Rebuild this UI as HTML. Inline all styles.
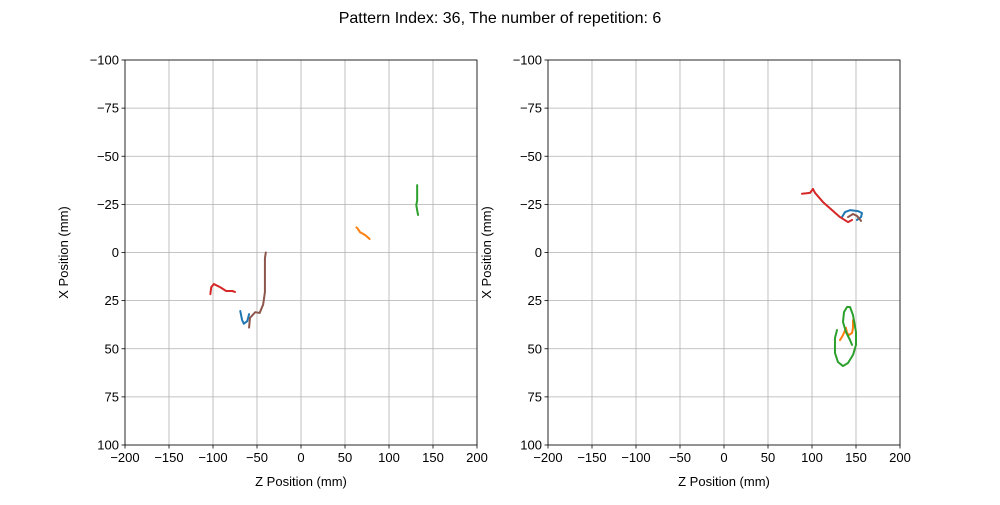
<!DOCTYPE html>
<html><head><meta charset="utf-8"><style>
body{margin:0;background:#fff;}
svg text{font-family:"Liberation Sans","DejaVu Sans",sans-serif;fill:#000;}
</style></head><body>
<svg id="chart" width="1000" height="500">
<text x="500" y="23" font-size="16" text-anchor="middle">Pattern Index: 36, The number of repetition: 6</text>
</svg>
<script>
const zTicks=[-200,-150,-100,-50,0,50,100,150,200];
const xTicks=[-100,-75,-50,-25,0,25,50,75,100];
const colors={blue:"#1f77b4",orange:"#ff7f0e",green:"#2ca02c",red:"#d62728",brown:"#8c564b"};
const leftBlueZ=[-69,-67,-65,-61,-59];
const leftBlueX=[30.4,35,37,35.6,32];
const leftBrownZ=[-59,-58,-52,-47,-43,-41,-41,-41,-40];
const leftBrownX=[39,34,31,31.4,27,20.5,9,3,0];
const leftRedZ=[-103,-102,-99,-92,-85,-78,-75];
const leftRedX=[21.6,18,16.4,18,20,20,20.5];
const leftOrangeZ=[63,64,67,73,78];
const leftOrangeX=[-13,-12.7,-10.6,-9,-7];
const leftGreenZ=[132,132,131,132,133];
const leftGreenX=[-35,-27,-24.7,-22,-19.5];
const rightRedZ=[88.6,97.7,101.1,103.4,112.5,131.8,140.9,145.5];
const rightRedX=[-30.5,-31,-33,-31,-26.2,-18.4,-15.8,-16.9];
const rightBlueZ=[134.1,137.5,143.2,152.3,156.8,155.7,151.1];
const rightBlueX=[-18.4,-21,-22,-21.5,-20.5,-18.4,-16.9];
const rightBrownZ=[140.9,146.6,151.1,155.7];
const rightBrownX=[-18.4,-20,-19,-16.4];
const rightGreenZ=[128.4,126.1,126.1,129.5,135.2,140.9,146.6,150,150,146.6,143.2,139.8,136.4,135.2,138.6,143.2,145.5];
const rightGreenX=[40.3,44.4,52.2,56.9,59,57.4,53.2,48,41.3,32.5,28.3,28.3,30.9,36.1,41.3,45.5,48];
const rightOrangeZ=[131.8,135.2,138.6,139.8,142,145.5,146.6,146.6];
const rightOrangeX=[45.5,42.9,39.2,41.8,42.9,41.8,39.2,35.1];

const NS="http://www.w3.org/2000/svg";
const svg=document.getElementById('chart');
function mk(t,a,p){const e=document.createElementNS(NS,t);for(const k in a)e.setAttribute(k,a[k]);(p||svg).appendChild(e);return e;}
function axes(x0,name,series){
  const x1=x0+352,y0=60,y1=445;
  const sx=z=>x0+(z+200)/400*(x1-x0);
  const sy=v=>y0+(v+100)/200*(y1-y0);
  const g=mk('g',{});
  
  
  zTicks.forEach(t=>{const X=sx(t);
    const l=mk('line',{x1:X,x2:X,y1:y0,y2:y1,stroke:'#b0b0b0','stroke-width':0.8},g);
    
    mk('line',{x1:X,x2:X,y1:y1,y2:y1+3.5,stroke:'#000','stroke-width':0.8},g);
    const tx=mk('text',{x:X,y:y1+17,'font-size':13,'text-anchor':'middle'},g);
    tx.textContent=String(t).replace('-','\u2212');
    });
  xTicks.forEach(t=>{const Y=sy(t);
    const l=mk('line',{x1:x0,x2:x1,y1:Y,y2:Y,stroke:'#b0b0b0','stroke-width':0.8},g);
    
    mk('line',{x1:x0-3.5,x2:x0,y1:Y,y2:Y,stroke:'#000','stroke-width':0.8},g);
    const tx=mk('text',{x:x0-6,y:Y+4.5,'font-size':13,'text-anchor':'end'},g);
    tx.textContent=String(t).replace('-','\u2212');
    });
  series.forEach(s=>{
    const p=mk('polyline',{points:s[0].map((z,i)=>sx(z)+','+sy(s[1][i])).join(' '),fill:'none',stroke:s[2],'stroke-width':2,'stroke-linejoin':'round','stroke-linecap':'round'},g);
    });
  const r=mk('rect',{x:x0,y:y0,width:x1-x0,height:y1-y0,fill:'none',stroke:'#000','stroke-width':0.8},g);
  
  const xl=mk('text',{x:(x0+x1)/2,y:486,'font-size':13,'text-anchor':'middle'},g);
  xl.textContent='Z Position (mm)';
  
  const yl=mk('text',{x:0,y:0,'font-size':13,'text-anchor':'middle',transform:`translate(${x0-57},${(y0+y1)/2}) rotate(-90)`},g);
  yl.textContent='X Position (mm)';
  
}
axes(125,'left-subplot',[
  [leftBlueZ,leftBlueX,colors.blue,'left-blue-trace'],
  [leftOrangeZ,leftOrangeX,colors.orange,'left-orange-trace'],
  [leftGreenZ,leftGreenX,colors.green,'left-green-trace'],
  [leftRedZ,leftRedX,colors.red,'left-red-trace'],
  [leftBrownZ,leftBrownX,colors.brown,'left-brown-trace']]);
axes(548,'right-subplot',[
  [rightBlueZ,rightBlueX,colors.blue,'right-blue-trace'],
  [rightOrangeZ,rightOrangeX,colors.orange,'right-orange-trace'],
  [rightGreenZ,rightGreenX,colors.green,'right-green-trace'],
  [rightRedZ,rightRedX,colors.red,'right-red-trace'],
  [rightBrownZ,rightBrownX,colors.brown,'right-brown-trace']]);
</script>
</body></html>
